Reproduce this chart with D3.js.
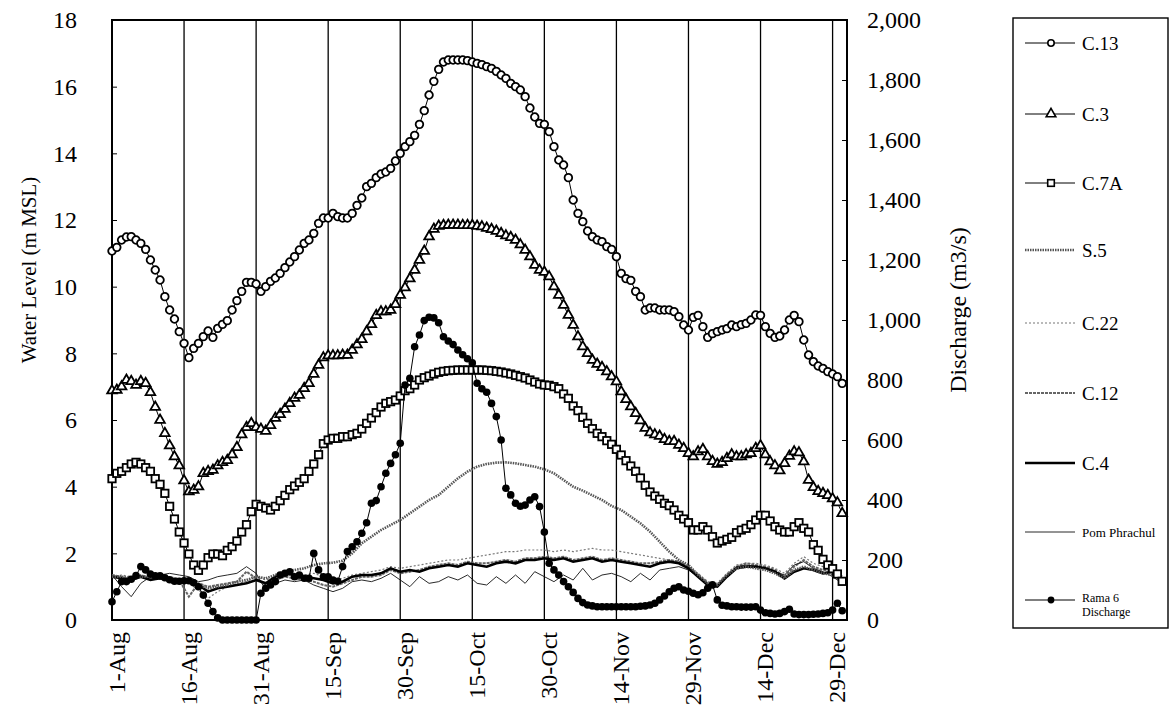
<!DOCTYPE html>
<html><head><meta charset="utf-8">
<script src="https://cdn.jsdelivr.net/npm/d3@7"></script>
<style>
body{margin:0;background:#fff;}
svg{display:block;}
text{font-family:"Liberation Serif","Times New Roman",serif;fill:#000;}
</style>
</head><body>
<svg id="chart" width="1171" height="706"></svg>
<script>
// ---------- DATA ----------
const xTickDays   = [0, 15, 30, 45, 60, 75, 90, 105, 120, 135, 150];
const xTickLabels = ["1-Aug","16-Aug","31-Aug","15-Sep","30-Sep","15-Oct","30-Oct","14-Nov","29-Nov","14-Dec","29-Dec"];
const leftTicks  = [0,2,4,6,8,10,12,14,16,18];
const rightTicks = [0,200,400,600,800,1000,1200,1400,1600,1800,2000];

// daily values from 1-Aug (water level, m MSL)
const c13 = [
 11.07,11.18,11.4,11.49,11.5,11.4,11.3,11.12,10.8,10.5,
 10.2,9.7,9.3,9.03,8.65,8.3,7.87,8.15,8.3,8.5,
 8.67,8.48,8.75,8.87,8.98,9.3,9.58,9.86,10.13,10.13,
 10.08,9.86,10.0,10.16,10.26,10.4,10.57,10.74,10.9,11.1,
 11.3,11.4,11.6,11.9,12.06,12.06,12.2,12.1,12.06,12.06,
 12.2,12.44,12.66,13.0,13.1,13.27,13.38,13.44,13.55,13.77,
 14.0,14.2,14.35,14.54,14.87,15.28,15.75,16.16,16.52,16.74,
 16.8,16.8,16.8,16.8,16.78,16.74,16.7,16.66,16.6,16.55,
 16.46,16.35,16.25,16.1,16.0,15.9,15.7,15.36,15.09,14.9,
 14.87,14.65,14.2,13.8,13.65,13.27,12.6,12.2,11.95,11.67,
 11.5,11.4,11.35,11.2,11.12,10.9,10.4,10.24,10.19,9.86,
 9.7,9.3,9.36,9.36,9.3,9.3,9.3,9.25,9.1,8.85,
 8.7,9.08,9.14,8.8,8.48,8.59,8.65,8.7,8.74,8.85,
 8.8,8.86,8.9,9.0,9.15,9.14,8.8,8.6,8.48,8.52,
 8.7,9.0,9.14,8.95,8.4,7.95,7.75,7.62,7.55,7.45,
 7.38,7.3,7.1];
const c3 = [
 6.88,6.9,7.0,7.2,7.16,7.05,7.16,7.1,6.83,6.39,
 6.0,5.6,5.23,4.9,4.63,4.18,3.85,3.9,4.0,4.4,
 4.46,4.5,4.63,4.73,4.79,4.96,5.18,5.56,5.78,5.9,
 5.78,5.73,5.67,5.84,6.06,6.17,6.33,6.5,6.66,6.75,
 6.95,7.1,7.38,7.65,7.87,7.93,7.93,7.93,7.95,7.95,
 8.1,8.26,8.42,8.65,8.87,9.14,9.25,9.25,9.3,9.47,
 9.75,9.97,10.24,10.5,10.8,11.07,11.5,11.73,11.82,11.84,
 11.85,11.85,11.85,11.84,11.84,11.84,11.82,11.8,11.76,11.72,
 11.67,11.6,11.53,11.48,11.4,11.26,11.1,10.9,10.65,10.5,
 10.44,10.3,10.0,9.75,9.45,9.15,8.85,8.5,8.2,8.0,
 7.8,7.68,7.58,7.45,7.3,7.15,6.85,6.62,6.4,6.2,
 5.98,5.76,5.62,5.56,5.52,5.42,5.36,5.36,5.25,5.15,
 5.0,4.9,5.05,5.12,4.9,4.76,4.68,4.73,4.85,4.96,
 4.9,4.9,4.96,5.0,5.15,5.23,4.96,4.75,4.63,4.48,
 4.7,4.92,5.05,5.02,4.75,4.2,3.98,3.86,3.8,3.74,
 3.64,3.52,3.2];
const c7a = [
 4.24,4.4,4.46,4.57,4.68,4.73,4.68,4.57,4.46,4.24,
 4.07,3.8,3.41,3.03,2.64,2.31,1.98,1.65,1.49,1.65,
 1.87,1.98,1.98,1.93,2.09,2.2,2.37,2.64,2.86,3.25,
 3.47,3.41,3.36,3.3,3.41,3.58,3.74,3.91,4.02,4.13,
 4.24,4.46,4.68,4.96,5.29,5.4,5.45,5.45,5.5,5.5,
 5.56,5.6,5.73,5.9,6.06,6.22,6.39,6.5,6.55,6.6,
 6.72,6.88,6.94,7.05,7.2,7.27,7.32,7.38,7.43,7.46,
 7.48,7.49,7.5,7.5,7.5,7.5,7.5,7.5,7.49,7.48,
 7.46,7.44,7.41,7.38,7.34,7.3,7.26,7.2,7.14,7.08,
 7.05,7.04,7.0,6.94,6.78,6.65,6.42,6.28,6.08,5.9,
 5.74,5.6,5.5,5.38,5.27,5.12,4.95,4.78,4.62,4.46,
 4.26,4.04,3.84,3.72,3.62,3.5,3.43,3.3,3.14,3.03,
 2.92,2.7,2.7,2.8,2.7,2.5,2.31,2.37,2.42,2.48,
 2.62,2.7,2.75,2.86,3.0,3.14,3.14,2.97,2.8,2.7,
 2.64,2.64,2.8,2.92,2.75,2.64,2.26,2.09,1.82,1.65,
 1.54,1.38,1.16];
// daily Rama 6 discharge (m3/s)
const rama6 = [
 61,94,128,128,136,148,178,167,153,147,
 147,141,134,129,129,131,131,124,111,83,
 56,28,7,0,0,0,0,0,0,0,
 0,89,106,117,128,150,156,161,144,150,
 139,139,222,167,144,144,133,129,178,228,
 244,261,289,324,389,398,444,489,522,551,
 589,783,806,911,950,998,1009,1007,991,944,
 930,918,900,884,871,857,789,771,759,722,
 678,600,439,417,389,379,383,400,411,378,
 293,189,167,150,128,111,92,72,58,50,
 47,44,44,44,44,44,44,44,44,44,
 46,47,50,56,67,80,94,106,111,100,
 96,89,84,91,106,117,67,49,47,44,
 44,43,43,43,44,33,24,22,20,22,
 28,36,20,18,18,18,19,20,22,24,
 33,56,31];
// values every second day from 1-Aug (water level, m MSL)
const s5 = [
 1.3,1.3,1.25,1.3,1.3,1.3,1.25,1.2,1.15,1.05,
 0.95,1.0,1.05,1.15,1.2,1.3,1.25,1.35,1.45,1.5,
 1.55,1.65,1.7,1.72,1.78,2.0,2.3,2.5,2.7,2.85,
 3.0,3.2,3.4,3.6,3.75,4.0,4.25,4.45,4.6,4.68,
 4.72,4.73,4.7,4.65,4.6,4.52,4.4,4.2,4.0,3.88,
 3.74,3.6,3.42,3.3,3.1,2.9,2.65,2.35,2.05,1.8,
 1.65,1.35,1.1,1.05,1.35,1.55,1.6,1.55,1.5,1.4,
 1.25,1.5,1.6,1.5,1.4,1.35,1.15];
const c22 = [
 1.3,1.35,1.3,1.3,1.25,1.3,1.3,1.25,1.1,0.9,
 0.65,0.85,1.0,1.1,1.15,1.3,1.2,1.3,1.45,1.4,
 1.35,1.4,1.3,1.2,1.25,1.35,1.4,1.45,1.5,1.6,
 1.55,1.6,1.65,1.7,1.75,1.8,1.8,1.85,1.9,1.95,
 2.0,2.05,2.05,2.1,2.1,2.1,2.05,2.1,2.05,2.1,
 2.15,2.1,2.1,2.05,2.0,1.95,1.9,1.85,1.8,1.75,
 1.6,1.4,1.15,1.1,1.4,1.65,1.7,1.7,1.65,1.55,
 1.4,1.7,1.9,1.7,1.6,1.55,1.35];
const c12 = [
 1.35,1.3,1.2,1.35,1.25,1.3,1.25,1.2,0.7,1.1,
 1.0,1.05,1.1,1.15,1.45,1.25,1.05,1.2,1.3,1.25,
 1.2,1.15,1.05,1.0,1.1,1.2,1.3,1.3,1.35,1.5,
 1.4,1.45,1.5,1.6,1.65,1.7,1.65,1.75,1.7,1.7,
 1.75,1.8,1.75,1.85,1.85,1.9,1.85,1.9,1.8,1.85,
 1.9,1.8,1.85,1.8,1.75,1.7,1.7,1.75,1.8,1.75,
 1.6,1.35,1.1,1.05,1.35,1.6,1.7,1.65,1.6,1.5,
 1.3,1.6,1.8,1.6,1.5,1.5,1.3];
const c4 = [
 1.3,1.25,1.2,1.3,1.2,1.25,1.2,1.15,1.15,1.05,
 0.85,0.95,1.0,1.05,1.1,1.2,1.1,1.3,1.4,1.35,
 1.3,1.25,1.2,1.1,1.15,1.3,1.35,1.35,1.4,1.55,
 1.45,1.5,1.45,1.55,1.6,1.65,1.6,1.7,1.65,1.6,
 1.7,1.75,1.7,1.8,1.8,1.85,1.8,1.85,1.75,1.8,
 1.85,1.75,1.8,1.75,1.7,1.65,1.6,1.7,1.75,1.7,
 1.55,1.3,1.05,1.0,1.3,1.55,1.6,1.6,1.55,1.45,
 1.25,1.45,1.55,1.5,1.4,1.45,1.2];
const pom = [
 1.35,1.0,0.7,1.1,1.3,1.35,1.4,1.35,1.3,1.15,
 1.2,1.3,1.35,1.4,1.6,1.4,0.9,1.1,1.2,1.15,
 1.2,1.05,0.95,0.85,0.95,1.15,1.2,1.15,1.25,1.4,
 1.2,1.0,1.3,1.1,1.15,1.3,1.2,1.35,1.1,1.05,
 1.3,1.1,1.35,1.1,1.45,1.3,1.15,1.35,1.2,1.55,
 1.2,1.35,1.4,1.3,1.15,1.4,1.2,1.5,1.55,1.6,
 1.5,1.3,1.05,1.0,1.3,1.6,1.65,1.6,1.55,1.45,
 1.35,1.65,1.75,1.55,1.45,1.3,1.1];

// ---------- CHART ----------
const svg = d3.select("#chart");
const L = 112, R = 847, T = 20, B = 620;
const x = d3.scaleLinear().domain([0, 153]).range([L, R]);
const yL = d3.scaleLinear().domain([0, 18]).range([B, T]);
const yR = d3.scaleLinear().domain([0, 2000]).range([B, T]);

const daily = v => v.map((d, i) => [i, d]);
const everyTwo = v => v.map((d, i) => [i * 2, d]);

// vertical grid lines
svg.append("g").selectAll("line").data(xTickDays.slice(1)).join("line")
  .attr("x1", d => x(d)).attr("x2", d => x(d)).attr("y1", T).attr("y2", B)
  .attr("stroke", "#000").attr("stroke-width", 1.3);

// axes
const gx = svg.append("g").attr("transform", `translate(0,${B})`)
  .call(d3.axisBottom(x).tickValues(xTickDays).tickFormat((d, i) => xTickLabels[i]).tickSize(0).tickPadding(0));
gx.select(".domain").remove();
gx.selectAll("text").attr("transform", "rotate(-90)").attr("x", -12).attr("y", 0)
  .attr("dy", "0.5em").attr("text-anchor", "end").style("font-size", "24px");

const gl = svg.append("g").attr("transform", `translate(${L},0)`)
  .call(d3.axisLeft(yL).tickValues(leftTicks).tickSizeInner(-5).tickSizeOuter(0).tickPadding(35));
gl.select(".domain").remove();
gl.selectAll("text").style("font-size", "24px");
gl.selectAll("line").attr("stroke-width", 1);

const gr = svg.append("g").attr("transform", `translate(${R},0)`)
  .call(d3.axisRight(yR).tickValues(rightTicks).tickFormat(d3.format(",")).tickSizeInner(-5).tickSizeOuter(0).tickPadding(20));
gr.select(".domain").remove();
gr.selectAll("text").style("font-size", "24px");

// frame
svg.append("rect").attr("x", L).attr("y", T).attr("width", R - L).attr("height", B - T)
  .attr("fill", "none").attr("stroke", "#000").attr("stroke-width", 2);

// titles
svg.append("text").attr("transform", "translate(29,270) rotate(-90)").attr("text-anchor", "middle")
  .attr("dy", "0.35em").style("font-size", "21px").text("Water Level (m MSL)");
svg.append("text").attr("transform", "translate(958,310) rotate(-90)").attr("text-anchor", "middle")
  .attr("dy", "0.35em").style("font-size", "24px").text("Discharge (m3/s)");

// series styles
const lineL = d3.line().x(d => x(d[0])).y(d => yL(d[1]));
const lineR = d3.line().x(d => x(d[0])).y(d => yR(d[1]));
const styles = {
  "C.22": {stroke: "#777", width: 1.2, dash: "2,2"},
  "C.12": {stroke: "#666", width: 2, dash: "3,1"},
  "Pom Phrachul": {stroke: "#111", width: 0.9, dash: null},
  "C.4": {stroke: "#000", width: 2.6, dash: null},
  "S.5": {stroke: "#555", width: 2.6, dash: "1.5,1"}
};
const lineSeries = [["C.22", c22], ["C.12", c12], ["Pom Phrachul", pom], ["C.4", c4], ["S.5", s5]];
const gLines = svg.append("g");
lineSeries.forEach(([name, vals]) => {
  const s = styles[name];
  gLines.append("path").datum(everyTwo(vals)).attr("d", lineL)
    .attr("fill", "none").attr("stroke", s.stroke).attr("stroke-width", s.width)
    .attr("stroke-dasharray", s.dash);
});

const tri = d3.symbol().type(d3.symbolTriangle).size(40);
function markerSeries(vals, scaleLine, kind) {
  const g = svg.append("g");
  g.append("path").datum(vals).attr("d", scaleLine).attr("fill", "none")
    .attr("stroke", "#000").attr("stroke-width", 1);
  const ys = scaleLine === lineR ? yR : yL;
  const pts = g.selectAll("g.pt").data(vals).join("g")
    .attr("transform", d => `translate(${x(d[0])},${ys(d[1])})`);
  if (kind === "circle") pts.append("circle").attr("r", 3.8).attr("fill", "#fff").attr("stroke", "#000").attr("stroke-width", 1.8);
  if (kind === "dot") pts.append("circle").attr("r", 3.8).attr("fill", "#000");
  if (kind === "square") pts.append("rect").attr("x", -3.7).attr("y", -3.7).attr("width", 7.4).attr("height", 7.4).attr("fill", "#fff").attr("stroke", "#000").attr("stroke-width", 1.8);
  if (kind === "triangle") pts.append("path").attr("d", tri).attr("fill", "#fff").attr("stroke", "#000").attr("stroke-width", 1.8);
}
markerSeries(daily(c7a), lineL, "square");
markerSeries(daily(c3), lineL, "triangle");
markerSeries(daily(c13), lineL, "circle");
markerSeries(daily(rama6), lineR, "dot");

// legend
const lg = svg.append("g");
lg.append("rect").attr("x", 1013).attr("y", 18).attr("width", 155).attr("height", 610)
  .attr("fill", "#fff").attr("stroke", "#000").attr("stroke-width", 1.4);
const legendItems = [
  {name: "C.13", y: 43, kind: "circle"},
  {name: "C.3", y: 114, kind: "triangle"},
  {name: "C.7A", y: 183, kind: "square"},
  {name: "S.5", y: 250, kind: "S.5"},
  {name: "C.22", y: 323, kind: "C.22"},
  {name: "C.12", y: 393, kind: "C.12"},
  {name: "C.4", y: 463, kind: "C.4"},
  {name: "Pom Phrachul", y: 532, kind: "Pom Phrachul"},
  {name: "Rama 6|Discharge", y: 600, kind: "dot"}
];
legendItems.forEach(it => {
  const g = lg.append("g").attr("transform", `translate(0,${it.y})`);
  const s = styles[it.kind];
  g.append("line").attr("x1", 1025).attr("x2", 1075).attr("y1", 0).attr("y2", 0)
    .attr("stroke", s ? s.stroke : "#000").attr("stroke-width", s ? s.width : 1)
    .attr("stroke-dasharray", s ? s.dash : null);
  const m = g.append("g").attr("transform", "translate(1051,0)");
  if (it.kind === "circle") m.append("circle").attr("r", 3.2).attr("fill", "#fff").attr("stroke", "#000").attr("stroke-width", 1.6);
  if (it.kind === "dot") m.append("circle").attr("r", 3.4).attr("fill", "#000");
  if (it.kind === "square") m.append("rect").attr("x", -3.3).attr("y", -3.3).attr("width", 6.6).attr("height", 6.6).attr("fill", "#fff").attr("stroke", "#000").attr("stroke-width", 1.6);
  if (it.kind === "triangle") m.append("path").attr("d", tri).attr("fill", "#fff").attr("stroke", "#000").attr("stroke-width", 1.6);
  const parts = it.name.split("|");
  const fs = parts.length > 1 ? 12 : (it.name.length > 6 ? 13 : 19);
  const t = g.append("text").attr("x", 1082).attr("y", parts.length > 1 ? -2 : 0).style("font-size", fs + "px");
  parts.forEach((p, i) => t.append("tspan").attr("x", 1082).attr("dy", i ? "1.15em" : "0.35em").text(p));
});
</script>
</body></html>
